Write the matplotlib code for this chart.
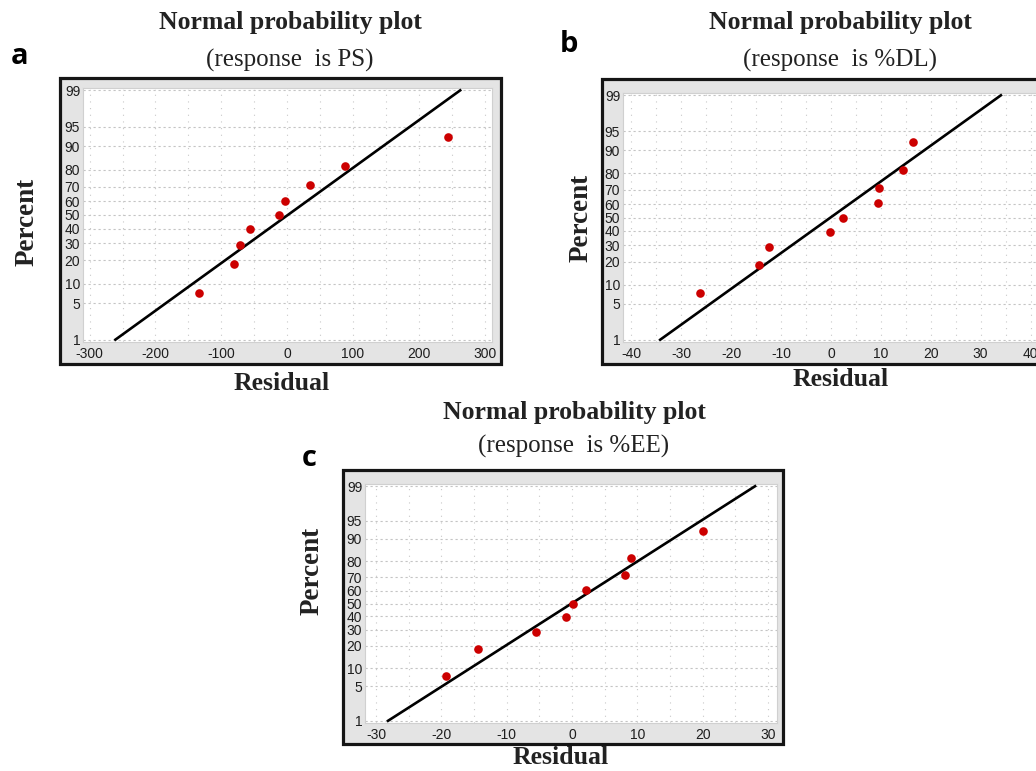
import matplotlib
matplotlib.use('Agg')
import matplotlib.pyplot as plt
import numpy as np
from statistics import NormalDist
from matplotlib.patches import Rectangle
from matplotlib.ticker import MultipleLocator, FixedLocator

# ---------------- data ----------------
percent = [7.4, 18.1, 28.7, 39.4, 50.0, 60.6, 71.3, 81.9, 92.6]
res_ps = [-134, -81, -71, -56, -12, -3.5, 34, 88, 244]
res_dl = [-26.3, -14.4, -12.4, -0.3, 2.5, 9.5, 9.6, 14.5, 16.5]
res_ee = [-19.3, -14.4, -5.5, -0.9, 0.1, 2.1, 8.1, 9.1, 20.1]
pct_ticks = [1, 5, 10, 20, 30, 40, 50, 60, 70, 80, 90, 95, 99]
xticks_ps = [-300, -200, -100, 0, 100, 200, 300]
xticks_dl = [-40, -30, -20, -10, 0, 10, 20, 30, 40]
xticks_ee = [-30, -20, -10, 0, 10, 20, 30]
titles = ["Normal probability plot", "(response  is PS)", "(response  is %DL)", "(response  is %EE)"]

W, H = 1036, 771
plt.rcParams['font.family'] = ['Liberation Sans', 'DejaVu Sans']
plt.rcParams['axes.unicode_minus'] = False

ND = NormalDist()
_ppf = np.vectorize(ND.inv_cdf, otypes=[float])
_cdf = np.vectorize(ND.cdf, otypes=[float])


def fwd(p):
    p = np.clip(np.asarray(p, float) / 100.0, 1e-9, 1 - 1e-9)
    return _ppf(p)


def inv(z):
    return _cdf(np.asarray(z, float)) * 100.0


fig = plt.figure(figsize=(W / 100, H / 100), dpi=100)
fig.patch.set_facecolor('white')


def fx(x):
    return x / W


def fy(y):
    return 1 - y / H


def box(x0, y0, x1, y1):
    return [fx(x0), fy(y1), (x1 - x0) / W, (y1 - y0) / H]


SERIF = ['Liberation Serif', 'DejaVu Serif']
ZLIM = 2.37
ylo, yhi = float(inv(-ZLIM)), float(inv(ZLIM))


def panel(frame, white, xlim, xticks, xminor, res, sub, letter, title_xy, sub_y,
          letter_xy, pct_xy, res_xy):
    fig.add_artist(Rectangle((fx(frame[0]), fy(frame[3])),
                             (frame[2] - frame[0]) / W, (frame[3] - frame[1]) / H,
                             transform=fig.transFigure, facecolor='#e4e4e4',
                             edgecolor='#151515', linewidth=2.3, zorder=0))
    ax = fig.add_axes(box(*white))
    ax.set_facecolor('white')
    ax.set_yscale('function', functions=(fwd, inv))
    ax.set_xlim(*xlim)
    ax.set_ylim(ylo, yhi)
    ax.xaxis.set_major_locator(FixedLocator(xticks))
    ax.xaxis.set_minor_locator(MultipleLocator(xminor))
    ax.yaxis.set_major_locator(FixedLocator(pct_ticks))
    ax.yaxis.set_minor_locator(FixedLocator([]))
    ax.set_yticklabels([str(t) for t in pct_ticks])
    ax.set_xticklabels([str(t) for t in xticks])
    ax.tick_params(which='both', length=0, labelsize=10, labelcolor='#1e1e1e')
    ax.tick_params(axis='x', pad=3.5)
    ax.tick_params(axis='y', pad=2)
    for lab in ax.get_xticklabels() + ax.get_yticklabels():
        lab.set_fontstretch('condensed')
    for s in ax.spines.values():
        s.set_color('#d0d0d0')
        s.set_linewidth(0.8)
    ax.grid(axis='y', which='major', color='#c4c4c4', linestyle=(0, (2, 2.5)), linewidth=0.8)
    ax.grid(axis='x', which='both', color='#c8c8c8', linestyle=(0, (1, 5)), linewidth=0.8)
    ax.set_axisbelow(True)
    m = np.mean(res)
    s = np.std(res, ddof=1)
    ends = np.array([1.0, 99.0])
    ax.plot(m + s * fwd(ends), ends, color='black', linewidth=1.9, zorder=3)
    ax.plot(res, percent, 'o', color='#cc0000', markersize=6.2, markeredgewidth=0, zorder=4)
    fig.text(fx(title_xy[0]), fy(title_xy[1]), titles[0], family=SERIF, weight='bold',
             fontsize=18.5, ha='center', va='center', color='#222222')
    fig.text(fx(title_xy[0]), fy(sub_y), sub, family=SERIF, fontsize=18,
             ha='center', va='center', color='#222222')
    fig.text(fx(letter_xy[0]), fy(letter_xy[1]), letter, family=['Open Sans', 'DejaVu Sans'],
             weight='bold', fontsize=21, ha='center', va='center', color='black')
    fig.text(fx(pct_xy[0]), fy(pct_xy[1]), 'Percent', family=SERIF, weight='bold',
             fontsize=19.5, ha='center', va='center', rotation=90, color='#222222')
    fig.text(fx(res_xy[0]), fy(res_xy[1]), 'Residual', family=SERIF, weight='bold',
             fontsize=18.5, ha='center', va='center', color='#222222')
    return ax


panel(frame=(60, 78, 501, 364), white=(83, 88, 492, 342), xlim=(-310, 311),
      xticks=xticks_ps, xminor=50, res=res_ps, sub=titles[1], letter='a',
      title_xy=(290, 23), sub_y=60, letter_xy=(20, 56), pct_xy=(27, 222), res_xy=(282, 384))

panel(frame=(602, 79, 1047, 364), white=(623, 93, 1039, 342), xlim=(-41.7, 41.7),
      xticks=xticks_dl, xminor=5, res=res_dl, sub=titles[2], letter='b',
      title_xy=(840, 23), sub_y=60, letter_xy=(569, 44), pct_xy=(581, 218), res_xy=(841, 380))

panel(frame=(343, 470, 783, 744), white=(365, 484, 777, 723), xlim=(-31.7, 31.4),
      xticks=xticks_ee, xminor=5, res=res_ee, sub=titles[3], letter='c',
      title_xy=(574, 412), sub_y=446, letter_xy=(309, 459), pct_xy=(312, 571), res_xy=(561, 757))

fig.savefig('out.png', dpi=100, facecolor='white')
